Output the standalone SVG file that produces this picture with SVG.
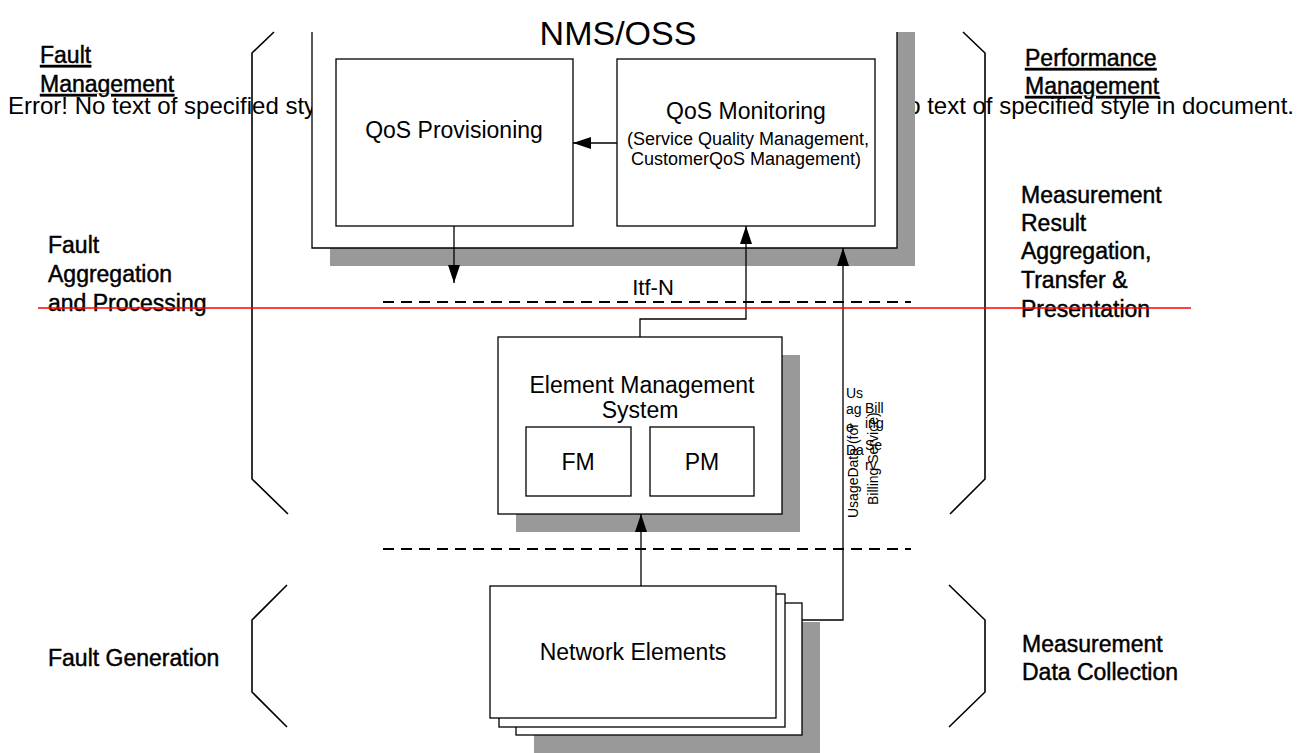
<svg xmlns="http://www.w3.org/2000/svg" width="1305" height="753" viewBox="0 0 1305 753">
<defs>
<style>
text{font-family:"Liberation Sans",Arial,sans-serif;fill:#000}
.box{fill:#fff;stroke:#000;stroke-width:1.3}
.shadow{fill:#999;stroke:none}
.t23{font-size:23px}
.t18{font-size:18px}
.lbl{font-size:23px;stroke:#000;stroke-width:0.45}
.ul{text-decoration:underline}
.br{fill:none;stroke:#000;stroke-width:1.6}
.dash{stroke:#000;stroke-width:2;stroke-dasharray:11 7}
.con{fill:none;stroke:#000;stroke-width:1.3}
.small{font-size:14px}
</style>
<marker id="ah" markerUnits="userSpaceOnUse" markerWidth="18" markerHeight="12" refX="18" refY="6" orient="auto">
<path d="M0,0 L18,6 L0,12 z" fill="#000"/>
</marker>
</defs>
<rect width="1305" height="753" fill="#fff"/>

<g id="error-text">
<text x="8" y="114" style="font-size:24px">Error! No text of specified style in document.</text>
<text x="1294" y="114" text-anchor="end" style="font-size:24px">Error! No text of specified style in document.</text>
</g>

<g id="node-nms">
<rect class="shadow" x="330" y="32" width="585" height="234"/>
<rect x="312" y="20" width="585" height="228" fill="#fff"/>
<path class="con" d="M312,32 V248 H897 V32"/>
<text x="618" y="45" text-anchor="middle" style="font-size:34px">NMS/OSS</text>
</g>

<g id="node-qos-provisioning">
<rect class="box" x="336" y="59" width="237" height="167"/>
<text class="t23" x="454" y="138" text-anchor="middle">QoS Provisioning</text>
</g>

<g id="node-qos-monitoring">
<rect class="box" x="617" y="59" width="258" height="167"/>
<text class="t23" x="746" y="119" text-anchor="middle">QoS Monitoring</text>
<text class="t18" x="627" y="145">(Service Quality Management,</text>
<text class="t18" x="631" y="165">CustomerQoS Management)</text>
</g>

<g id="node-ems">
<rect class="shadow" x="516" y="355" width="284" height="177"/>
<rect class="box" x="498" y="337" width="284" height="177"/>
<text class="t23" x="642" y="393" text-anchor="middle">Element Management</text>
<text class="t23" x="640" y="418" text-anchor="middle">System</text>
</g>

<g id="node-fm">
<rect class="box" x="526" y="427" width="105" height="69"/>
<text class="t23" x="578" y="470" text-anchor="middle">FM</text>
</g>

<g id="node-pm">
<rect class="box" x="650" y="427" width="104" height="69"/>
<text class="t23" x="702" y="470" text-anchor="middle">PM</text>
</g>

<g id="node-network-elements">
<rect class="shadow" x="534" y="622" width="286" height="131"/>
<rect class="box" x="516" y="603" width="286" height="132"/>
<rect class="box" x="499" y="594" width="286" height="133"/>
<rect class="box" x="490" y="586" width="286" height="132"/>
<text class="t23" x="633" y="660" text-anchor="middle">Network Elements</text>
</g>

<g id="brackets">
<polyline class="br" points="274,32 252,53 252,479 288,514"/>
<polyline class="br" points="963,32 985,53 985,479 950,514"/>
<polyline class="br" points="287,585 252,620 252,692 287,727"/>
<polyline class="br" points="949,585 985,620 985,692 949,727"/>
</g>

<g id="labels">
<text class="lbl ul" x="40" y="63">Fault</text>
<text class="lbl ul" x="40" y="92">Management</text>
<text class="lbl ul" x="1025" y="66">Performance</text>
<text class="lbl ul" x="1025" y="94">Management</text>
<text class="lbl" x="48" y="253">Fault</text>
<text class="lbl" x="48" y="282">Aggregation</text>
<text class="lbl" x="48" y="311">and Processing</text>
<text class="lbl" x="1021" y="203">Measurement</text>
<text class="lbl" x="1021" y="231">Result</text>
<text class="lbl" x="1021" y="259">Aggregation,</text>
<text class="lbl" x="1021" y="288">Transfer &amp;</text>
<text class="lbl" x="1021" y="317">Presentation</text>
<text class="lbl" x="48" y="666">Fault Generation</text>
<text class="lbl" x="1022" y="652">Measurement</text>
<text class="lbl" x="1022" y="680">Data Collection</text>
</g>

<g id="interfaces">
<line class="dash" x1="383" y1="302" x2="911" y2="302"/>
<line class="dash" x1="383" y1="549" x2="911" y2="549"/>
<text x="653" y="295" text-anchor="middle" style="font-size:22px">Itf-N</text>
</g>

<g id="connectors">
<line class="con" x1="617" y1="143" x2="573" y2="143" marker-end="url(#ah)"/>
<line class="con" x1="454" y1="226" x2="454" y2="283" marker-end="url(#ah)"/>
<polyline class="con" points="640,337 640,319 746,319 746,226" marker-end="url(#ah)"/>
<line class="con" x1="641" y1="586" x2="641" y2="514" marker-end="url(#ah)"/>
<polyline class="con" points="802,620 843,620 843,248" marker-end="url(#ah)"/>
</g>

<g id="usage-label">
<text class="small" transform="translate(858,518) rotate(-90)">UsageData (for</text>
<text class="small" transform="translate(878,505) rotate(-90)">Billing Service)</text>
<text class="small" x="846" y="398">Us</text>
<text class="small" x="846" y="414">ag</text>
<text class="small" x="846" y="432">e</text>
<text class="small" x="846" y="455">Da</text>
<text class="small" x="865" y="413">Bill</text>
<text class="small" x="865" y="428">ing</text>
<text class="small" x="865" y="450">Se</text>
<text class="small" x="865" y="470">rv</text>
</g>

<line x1="38" y1="308" x2="1191" y2="308" stroke="#f00" stroke-width="1.6"/>
</svg>
